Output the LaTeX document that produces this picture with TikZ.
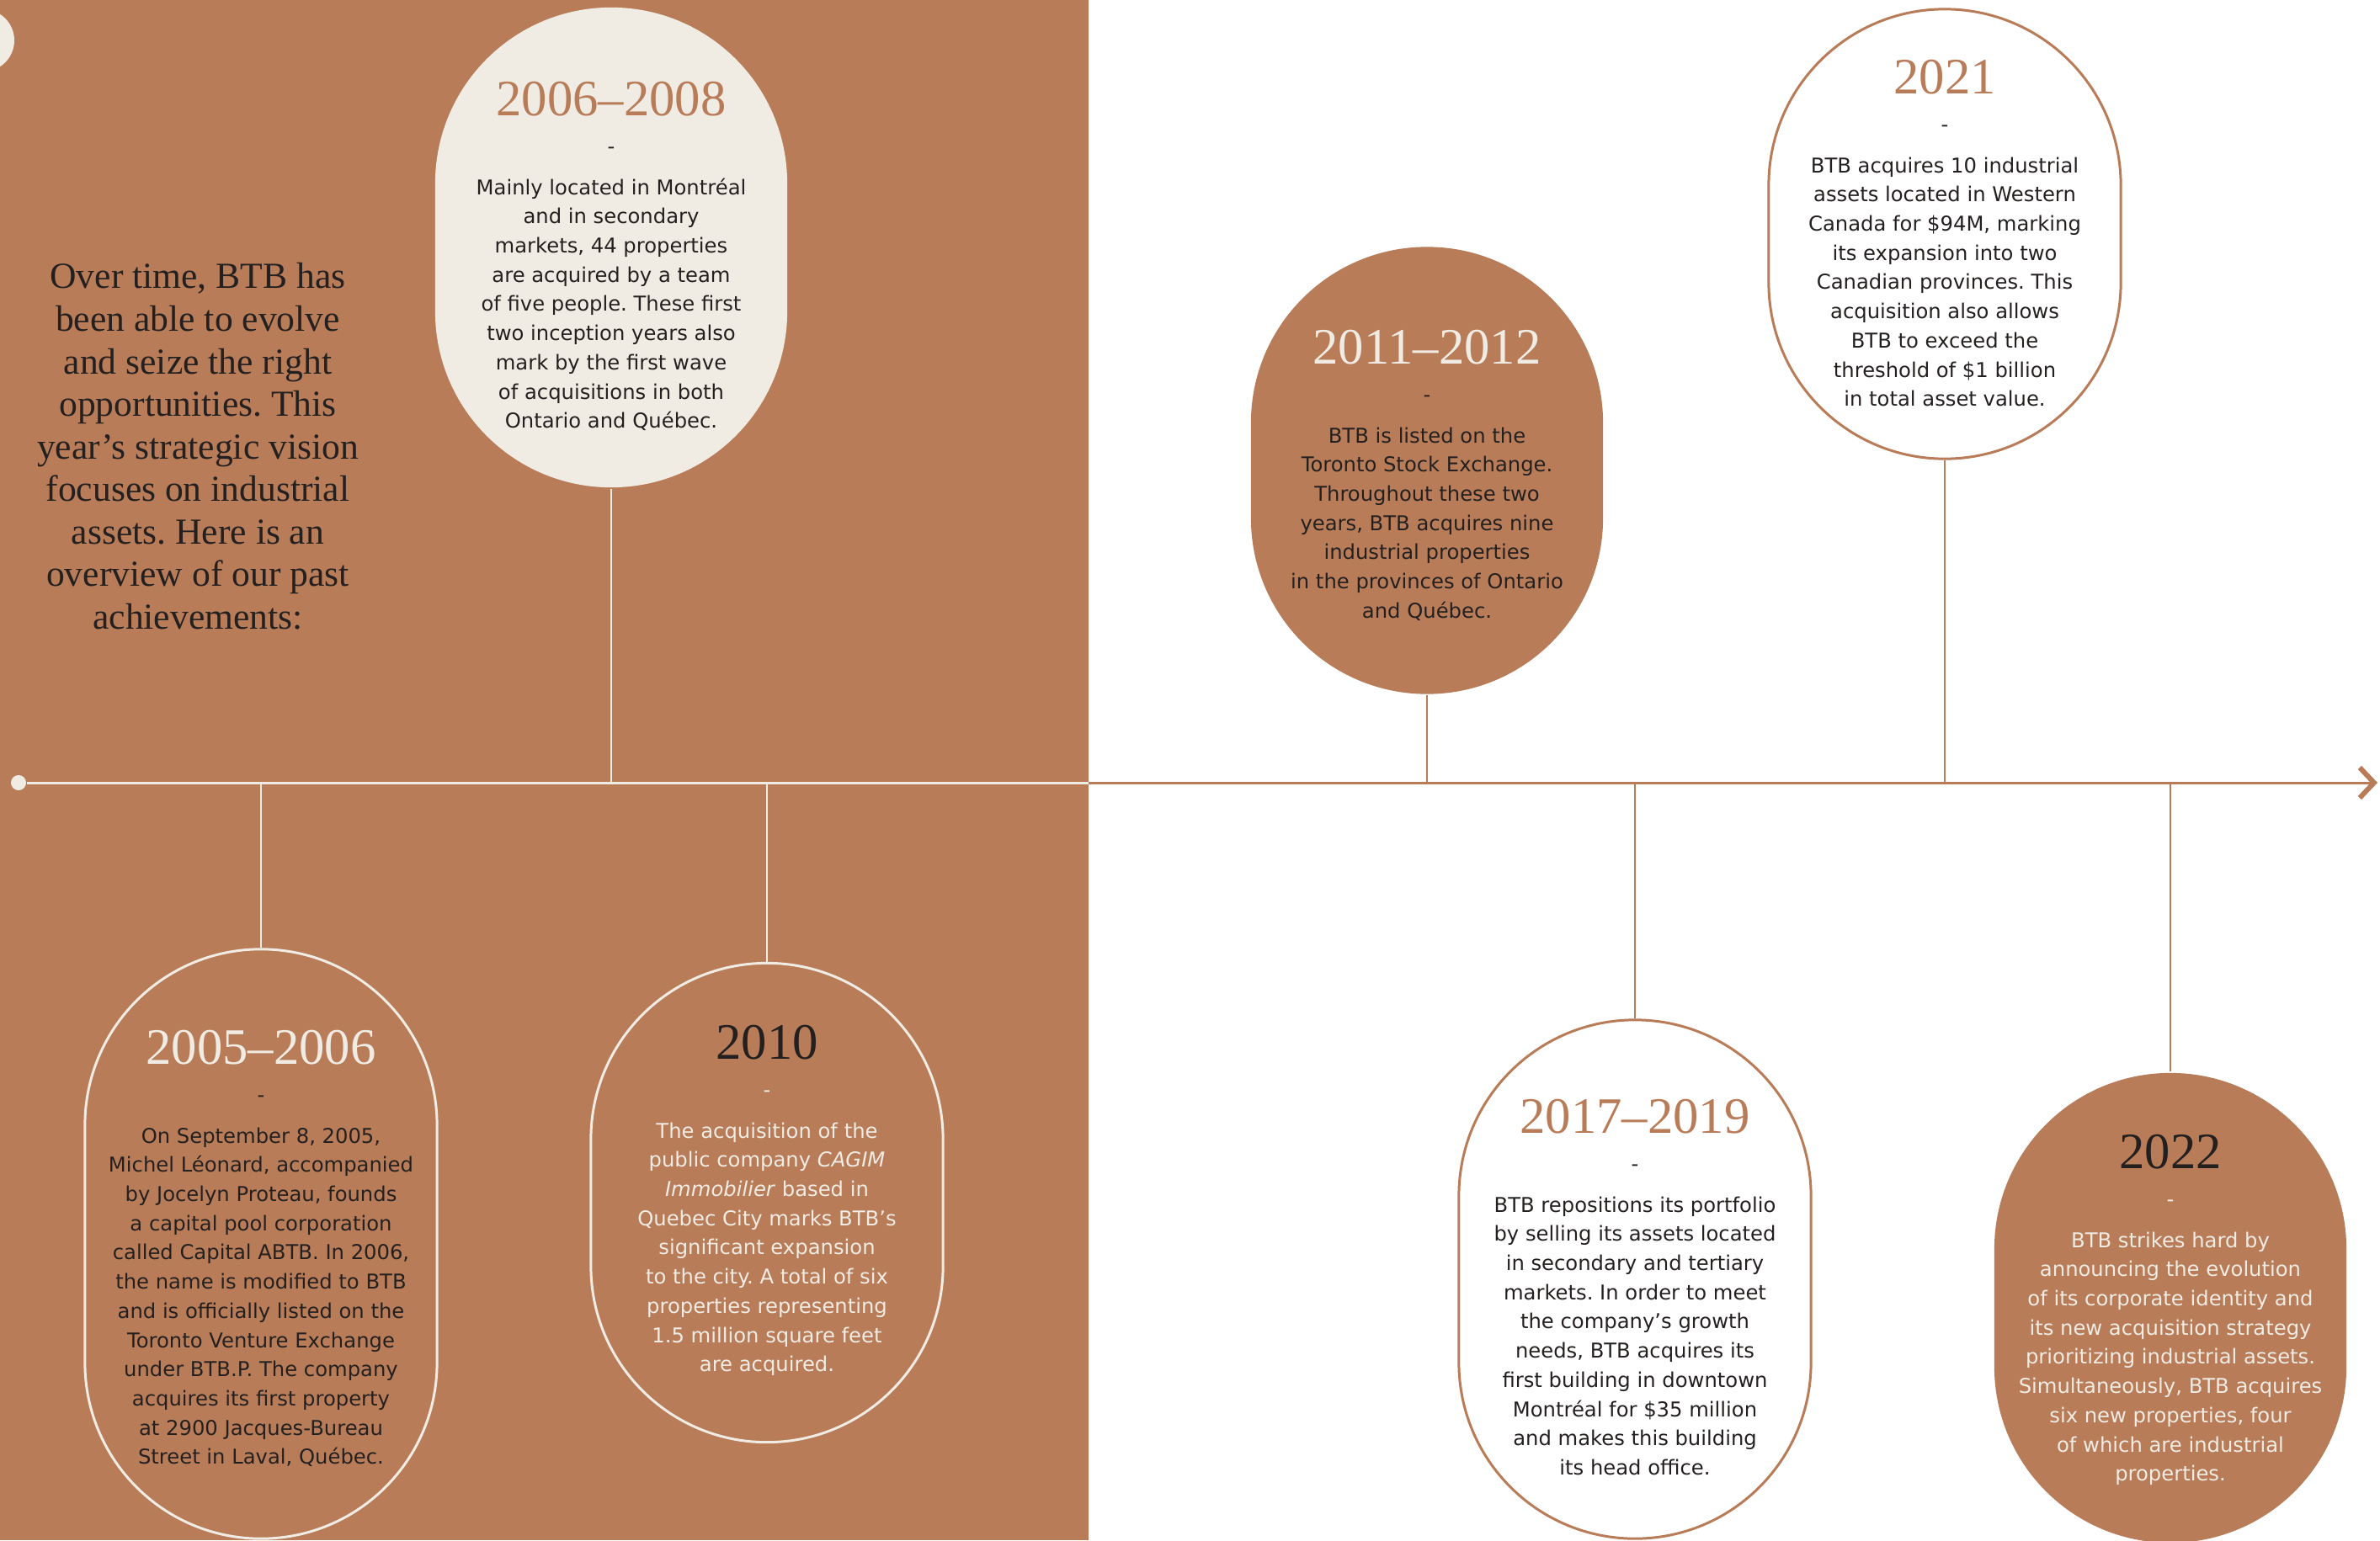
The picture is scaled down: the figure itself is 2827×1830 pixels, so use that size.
\documentclass[tikz,border=0pt]{standalone}
\usepackage{fontspec}
\usetikzlibrary{positioning,arrows.meta}
\newfontfamily\bodyfont{DejaVu Sans}
\newfontfamily\yearfont{Liberation Serif}
\definecolor{clay}{RGB}{184,124,89}
\definecolor{cream}{RGB}{240,236,227}
\definecolor{ink}{RGB}{36,32,31}
\newcommand{\yr}[2]{{\yearfont\fontsize{17.25}{17.25}\selectfont\color{#1}#2}}
\frenchspacing

\begin{document}
\begin{tikzpicture}[
        x=0.01cm, y=-0.01cm,
        pill/.style={
            rectangle,
            rounded corners=2.09cm,
            minimum width=4.18cm,
            inner sep=0pt,
            line width=0.85pt
        },
        stem/.style={line width=0.6pt},
        story/.style={
            anchor=north,
            align=center,
            inner sep=0pt,
            font=\bodyfont\fontsize{6.9}{9.87}\selectfont
        }
    ]
    \useasboundingbox (0,0) rectangle (2827,1830);
    \clip (0,0) rectangle (2827,1830);
    \fill[white] (0,0) rectangle (2827,1830);
    \fill[clay] (0,0) rectangle (1293,1830);
    \fill[cream] (-20,48) circle[radius=0.37cm];

    % intro
    \node[anchor=north, align=center, inner sep=0pt, text=ink,
        font=\yearfont\fontsize{12.4}{14.37}\selectfont] (intro) at (235,312)
    {Over time, BTB has\\ been able to evolve\\ and seize the right\\ opportunities. This\\ year’s strategic vision\\ focuses on industrial\\ assets. Here is an\\ overview of our past\\ achievements:};

    % timeline
    \node[circle, fill=cream, inner sep=0pt, minimum size=0.18cm] (origin) at (22,930) {};
    \coordinate (seam) at (1293,930);
    \coordinate (tip) at (2824,930);
    \draw[cream, line width=0.85pt] (origin) -- (seam);
    \draw[clay, line width=0.85pt, -{Straight Barb[length=0.17cm, width=0.36cm, line width=1.7pt]}] (seam) -- (tip);

    % pills
    \node[pill, draw=cream, fill=clay, minimum height=7cm] (p0506) at (310,1478) {};
    \node[pill, fill=cream, minimum height=5.7cm] (p0608) at (726,294) {};
    \node[pill, draw=cream, fill=clay, minimum height=5.69cm] (p10) at (911,1429) {};
    \node[pill, fill=clay, minimum height=5.31cm] (p1112) at (1695,559) {};
    \node[pill, draw=clay, fill=white, minimum height=6.16cm] (p1719) at (1942,1520) {};
    \node[pill, draw=clay, fill=white, minimum height=5.34cm] (p21) at (2310,278) {};
    \node[pill, fill=clay, minimum height=5.58cm] (p22) at (2578,1554) {};

    \draw[stem, cream] (p0506) -- (p0506 |- origin);
    \draw[stem, cream] (p0608) -- (p0608 |- origin);
    \draw[stem, cream] (p10) -- (p10 |- origin);
    \draw[stem, clay] (p1112) -- (p1112 |- origin);
    \draw[stem, clay] (p1719) -- (p1719 |- origin);
    \draw[stem, clay] (p21) -- (p21 |- origin);
    \draw[stem, clay] (p22) -- (p22 |- origin);

    % texts
    \node[story, text=ink] (t0506) at (310,1223) {\yr{cream}{2005–2006}\\[0.103cm] -\\[0.143cm]
    On September 8, 2005,\\ Michel Léonard, accompanied\\ by Jocelyn Proteau, founds\\ a capital pool corporation\\ called Capital ABTB. In 2006,\\ the name is modified to BTB\\ and is officially listed on the\\ Toronto Venture Exchange\\ under BTB.P. The company\\ acquires its first property\\ at 2900 Jacques-Bureau\\ Street in Laval, Québec.};

    \node[story, text=ink] (t0608) at (726,96) {\yr{clay}{2006–2008}\\[0.103cm] -\\[0.143cm]
    Mainly located in Montréal\\ and in secondary\\ markets, 44 properties\\ are acquired by a team\\ of five people. These first\\ two inception years also\\ mark by the first wave\\ of acquisitions in both\\ Ontario and Québec.};

    \node[story, text=cream] (t10) at (911,1217) {\yr{ink}{2010}\\[0.103cm] -\\[0.143cm]
    The acquisition of the\\ public company \textit{CAGIM}\\ \textit{Immobilier} based in\\ Quebec City marks BTB’s\\ significant expansion\\ to the city. A total of six\\ properties representing\\ 1.5 million square feet\\ are acquired.};

    \node[story, text=ink] (t1112) at (1695,391) {\yr{cream}{2011–2012}\\[0.103cm] -\\[0.143cm]
    BTB is listed on the\\ Toronto Stock Exchange.\\ Throughout these two\\ years, BTB acquires nine\\ industrial properties\\ in the provinces of Ontario\\ and Québec.};

    \node[story, text=ink] (t1719) at (1942,1305) {\yr{clay}{2017–2019}\\[0.103cm] -\\[0.143cm]
    BTB repositions its portfolio\\ by selling its assets located\\ in secondary and tertiary\\ markets. In order to meet\\ the company’s growth\\ needs, BTB acquires its\\ first building in downtown\\ Montréal for \$35 million\\ and makes this building\\ its head office.};

    \node[story, text=ink] (t21) at (2310,70) {\yr{clay}{2021}\\[0.103cm] -\\[0.143cm]
    BTB acquires 10 industrial\\ assets located in Western\\ Canada for \$94M, marking\\ its expansion into two\\ Canadian provinces. This\\ acquisition also allows\\ BTB to exceed the\\ threshold of \$1 billion\\ in total asset value.};

    \node[story, text=cream] (t22) at (2578,1347) {\yr{ink}{2022}\\[0.103cm] -\\[0.143cm]
    BTB strikes hard by\\ announcing the evolution\\ of its corporate identity and\\ its new acquisition strategy\\ prioritizing industrial assets.\\ Simultaneously, BTB acquires\\ six new properties, four\\ of which are industrial\\ properties.};
\end{tikzpicture}
\end{document}
